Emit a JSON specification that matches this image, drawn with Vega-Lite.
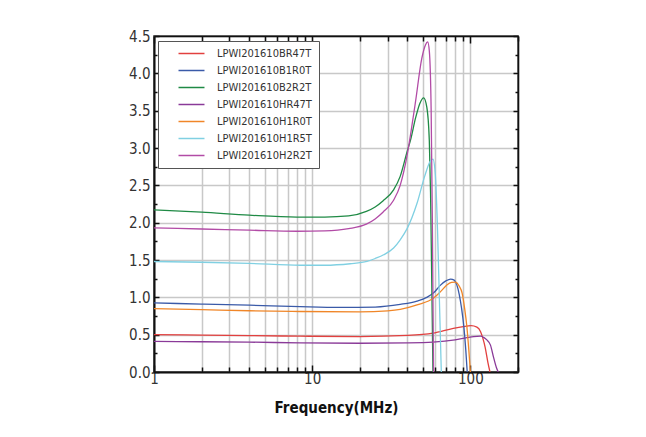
{
  "$schema": "https://vega.github.io/schema/vega-lite/v6.json",
  "width": 364,
  "height": 336,
  "autosize": "none",
  "padding": {"left": 154, "top": 36, "right": 128, "bottom": 65},
  "background": "white",
  "config": {
    "view": {"stroke": "#222", "strokeWidth": 1.5},
    "font": "Liberation Sans Narrow, DejaVu Sans Condensed, Arial Narrow, sans-serif"
  },
  "data": {
    "values": [
      {"f": 1, "v": 0.5, "s": "LPWI201610BR47T"},
      {"f": 2, "v": 0.495, "s": "LPWI201610BR47T"},
      {"f": 4, "v": 0.487, "s": "LPWI201610BR47T"},
      {"f": 8.4, "v": 0.48, "s": "LPWI201610BR47T"},
      {"f": 20, "v": 0.475, "s": "LPWI201610BR47T"},
      {"f": 40, "v": 0.49, "s": "LPWI201610BR47T"},
      {"f": 58, "v": 0.52, "s": "LPWI201610BR47T"},
      {"f": 78, "v": 0.585, "s": "LPWI201610BR47T"},
      {"f": 90, "v": 0.608, "s": "LPWI201610BR47T"},
      {"f": 101, "v": 0.62, "s": "LPWI201610BR47T"},
      {"f": 110, "v": 0.6, "s": "LPWI201610BR47T"},
      {"f": 116, "v": 0.54, "s": "LPWI201610BR47T"},
      {"f": 120, "v": 0.45, "s": "LPWI201610BR47T"},
      {"f": 124, "v": 0.33, "s": "LPWI201610BR47T"},
      {"f": 129, "v": 0.13, "s": "LPWI201610BR47T"},
      {"f": 133, "v": 0, "s": "LPWI201610BR47T"},

      {"f": 1, "v": 0.925, "s": "LPWI201610B1R0T"},
      {"f": 2, "v": 0.91, "s": "LPWI201610B1R0T"},
      {"f": 4, "v": 0.895, "s": "LPWI201610B1R0T"},
      {"f": 8.4, "v": 0.875, "s": "LPWI201610B1R0T"},
      {"f": 15, "v": 0.865, "s": "LPWI201610B1R0T"},
      {"f": 25, "v": 0.87, "s": "LPWI201610B1R0T"},
      {"f": 36, "v": 0.905, "s": "LPWI201610B1R0T"},
      {"f": 46, "v": 0.95, "s": "LPWI201610B1R0T"},
      {"f": 53, "v": 1.0, "s": "LPWI201610B1R0T"},
      {"f": 58.6, "v": 1.06, "s": "LPWI201610B1R0T"},
      {"f": 64.5, "v": 1.16, "s": "LPWI201610B1R0T"},
      {"f": 70, "v": 1.22, "s": "LPWI201610B1R0T"},
      {"f": 75, "v": 1.245, "s": "LPWI201610B1R0T"},
      {"f": 79, "v": 1.23, "s": "LPWI201610B1R0T"},
      {"f": 82, "v": 1.17, "s": "LPWI201610B1R0T"},
      {"f": 85, "v": 1.04, "s": "LPWI201610B1R0T"},
      {"f": 88, "v": 0.85, "s": "LPWI201610B1R0T"},
      {"f": 91, "v": 0.6, "s": "LPWI201610B1R0T"},
      {"f": 93.5, "v": 0.3, "s": "LPWI201610B1R0T"},
      {"f": 95.5, "v": 0, "s": "LPWI201610B1R0T"},

      {"f": 1, "v": 2.17, "s": "LPWI201610B2R2T"},
      {"f": 2, "v": 2.14, "s": "LPWI201610B2R2T"},
      {"f": 4, "v": 2.1, "s": "LPWI201610B2R2T"},
      {"f": 8, "v": 2.075, "s": "LPWI201610B2R2T"},
      {"f": 12, "v": 2.075, "s": "LPWI201610B2R2T"},
      {"f": 17, "v": 2.09, "s": "LPWI201610B2R2T"},
      {"f": 22, "v": 2.15, "s": "LPWI201610B2R2T"},
      {"f": 25, "v": 2.21, "s": "LPWI201610B2R2T"},
      {"f": 28, "v": 2.29, "s": "LPWI201610B2R2T"},
      {"f": 32.7, "v": 2.44, "s": "LPWI201610B2R2T"},
      {"f": 36, "v": 2.62, "s": "LPWI201610B2R2T"},
      {"f": 39.8, "v": 2.95, "s": "LPWI201610B2R2T"},
      {"f": 42, "v": 3.12, "s": "LPWI201610B2R2T"},
      {"f": 45, "v": 3.4, "s": "LPWI201610B2R2T"},
      {"f": 48, "v": 3.6, "s": "LPWI201610B2R2T"},
      {"f": 50.6, "v": 3.67, "s": "LPWI201610B2R2T"},
      {"f": 53, "v": 3.55, "s": "LPWI201610B2R2T"},
      {"f": 55, "v": 3.1, "s": "LPWI201610B2R2T"},
      {"f": 56, "v": 2.4, "s": "LPWI201610B2R2T"},
      {"f": 57, "v": 1.2, "s": "LPWI201610B2R2T"},
      {"f": 58, "v": 0, "s": "LPWI201610B2R2T"},

      {"f": 1, "v": 0.41, "s": "LPWI201610HR47T"},
      {"f": 2, "v": 0.405, "s": "LPWI201610HR47T"},
      {"f": 4, "v": 0.4, "s": "LPWI201610HR47T"},
      {"f": 8.4, "v": 0.39, "s": "LPWI201610HR47T"},
      {"f": 20, "v": 0.385, "s": "LPWI201610HR47T"},
      {"f": 40, "v": 0.39, "s": "LPWI201610HR47T"},
      {"f": 58, "v": 0.4, "s": "LPWI201610HR47T"},
      {"f": 80, "v": 0.43, "s": "LPWI201610HR47T"},
      {"f": 95, "v": 0.46, "s": "LPWI201610HR47T"},
      {"f": 105, "v": 0.475, "s": "LPWI201610HR47T"},
      {"f": 116, "v": 0.48, "s": "LPWI201610HR47T"},
      {"f": 122, "v": 0.46, "s": "LPWI201610HR47T"},
      {"f": 127, "v": 0.43, "s": "LPWI201610HR47T"},
      {"f": 134, "v": 0.36, "s": "LPWI201610HR47T"},
      {"f": 140, "v": 0.2, "s": "LPWI201610HR47T"},
      {"f": 146, "v": 0.06, "s": "LPWI201610HR47T"},
      {"f": 150, "v": 0, "s": "LPWI201610HR47T"},

      {"f": 1, "v": 0.85, "s": "LPWI201610H1R0T"},
      {"f": 2, "v": 0.835, "s": "LPWI201610H1R0T"},
      {"f": 4, "v": 0.82, "s": "LPWI201610H1R0T"},
      {"f": 8.4, "v": 0.81, "s": "LPWI201610H1R0T"},
      {"f": 20, "v": 0.805, "s": "LPWI201610H1R0T"},
      {"f": 30, "v": 0.82, "s": "LPWI201610H1R0T"},
      {"f": 36, "v": 0.84, "s": "LPWI201610H1R0T"},
      {"f": 46, "v": 0.9, "s": "LPWI201610H1R0T"},
      {"f": 58.6, "v": 0.99, "s": "LPWI201610H1R0T"},
      {"f": 65, "v": 1.08, "s": "LPWI201610H1R0T"},
      {"f": 71, "v": 1.165, "s": "LPWI201610H1R0T"},
      {"f": 76, "v": 1.2, "s": "LPWI201610H1R0T"},
      {"f": 80.4, "v": 1.205, "s": "LPWI201610H1R0T"},
      {"f": 85, "v": 1.15, "s": "LPWI201610H1R0T"},
      {"f": 88.6, "v": 1.06, "s": "LPWI201610H1R0T"},
      {"f": 92, "v": 0.85, "s": "LPWI201610H1R0T"},
      {"f": 95, "v": 0.61, "s": "LPWI201610H1R0T"},
      {"f": 98.8, "v": 0.16, "s": "LPWI201610H1R0T"},
      {"f": 100, "v": 0, "s": "LPWI201610H1R0T"},

      {"f": 1, "v": 1.48, "s": "LPWI201610H1R5T"},
      {"f": 2, "v": 1.47, "s": "LPWI201610H1R5T"},
      {"f": 4, "v": 1.455, "s": "LPWI201610H1R5T"},
      {"f": 8.4, "v": 1.43, "s": "LPWI201610H1R5T"},
      {"f": 12, "v": 1.43, "s": "LPWI201610H1R5T"},
      {"f": 17.4, "v": 1.45, "s": "LPWI201610H1R5T"},
      {"f": 22.2, "v": 1.48, "s": "LPWI201610H1R5T"},
      {"f": 25, "v": 1.52, "s": "LPWI201610H1R5T"},
      {"f": 28.3, "v": 1.57, "s": "LPWI201610H1R5T"},
      {"f": 32.7, "v": 1.66, "s": "LPWI201610H1R5T"},
      {"f": 36, "v": 1.77, "s": "LPWI201610H1R5T"},
      {"f": 39.8, "v": 1.92, "s": "LPWI201610H1R5T"},
      {"f": 46, "v": 2.26, "s": "LPWI201610H1R5T"},
      {"f": 51.4, "v": 2.62, "s": "LPWI201610H1R5T"},
      {"f": 55.7, "v": 2.82, "s": "LPWI201610H1R5T"},
      {"f": 58, "v": 2.85, "s": "LPWI201610H1R5T"},
      {"f": 60, "v": 2.65, "s": "LPWI201610H1R5T"},
      {"f": 62, "v": 1.9, "s": "LPWI201610H1R5T"},
      {"f": 64, "v": 0.8, "s": "LPWI201610H1R5T"},
      {"f": 65.5, "v": 0, "s": "LPWI201610H1R5T"},

      {"f": 1, "v": 1.93, "s": "LPWI201610H2R2T"},
      {"f": 2, "v": 1.915, "s": "LPWI201610H2R2T"},
      {"f": 4, "v": 1.9, "s": "LPWI201610H2R2T"},
      {"f": 8, "v": 1.885, "s": "LPWI201610H2R2T"},
      {"f": 12, "v": 1.89, "s": "LPWI201610H2R2T"},
      {"f": 17, "v": 1.92, "s": "LPWI201610H2R2T"},
      {"f": 22, "v": 1.98, "s": "LPWI201610H2R2T"},
      {"f": 25, "v": 2.05, "s": "LPWI201610H2R2T"},
      {"f": 28, "v": 2.14, "s": "LPWI201610H2R2T"},
      {"f": 32.7, "v": 2.3, "s": "LPWI201610H2R2T"},
      {"f": 36, "v": 2.5, "s": "LPWI201610H2R2T"},
      {"f": 39.8, "v": 2.9, "s": "LPWI201610H2R2T"},
      {"f": 42, "v": 3.2, "s": "LPWI201610H2R2T"},
      {"f": 45, "v": 3.62, "s": "LPWI201610H2R2T"},
      {"f": 49.3, "v": 4.2, "s": "LPWI201610H2R2T"},
      {"f": 52, "v": 4.38, "s": "LPWI201610H2R2T"},
      {"f": 53.7, "v": 4.42, "s": "LPWI201610H2R2T"},
      {"f": 55, "v": 4.3, "s": "LPWI201610H2R2T"},
      {"f": 56.5, "v": 3.5, "s": "LPWI201610H2R2T"},
      {"f": 57.5, "v": 2.0, "s": "LPWI201610H2R2T"},
      {"f": 58.5, "v": 0, "s": "LPWI201610H2R2T"}
    ]
  },
  "layer": [
    {
      "mark": {"type": "line", "strokeWidth": 1.3, "interpolate": "monotone", "clip": true},
      "encoding": {
        "x": {
          "field": "f", "type": "quantitative",
          "scale": {"type": "log", "domain": [1, 200], "nice": false},
          "axis": {
            "orient": "bottom",
            "title": "Frequency(MHz)",
            "titleFontSize": 15, "titleFontWeight": "bold", "titleColor": "#111", "titlePadding": 12,
            "values": [1,2,3,4,5,6,7,8,9,10,20,30,40,50,60,70,80,90,100,200],
            "labelExpr": "(datum.value == 1 || datum.value == 10 || datum.value == 100) ? format(datum.value, 'd') : ''",
            "labelFontSize": 15, "labelColor": "#333", "labelPadding": 6,
            "labelFlush": false, "labelOverlap": false,
            "tickColor": "#111", "tickWidth": 1.5,
            "tickSize": {"condition": {"test": "datum.value == 1 || datum.value == 10 || datum.value == 100", "value": -7}, "value": -5},
            "domainColor": "#111", "domainWidth": 2,
            "grid": true, "gridColor": "#c8c8c8", "gridWidth": 1.5
          }
        },
        "y": {
          "field": "v", "type": "quantitative",
          "scale": {"domain": [0, 4.5], "nice": false, "zero": true},
          "axis": {
            "orient": "left",
            "title": null,
            "values": [0,0.25,0.5,0.75,1,1.25,1.5,1.75,2,2.25,2.5,2.75,3,3.25,3.5,3.75,4,4.25,4.5],
            "labelExpr": "(datum.value * 2 == floor(datum.value * 2)) ? format(datum.value, '.1f') : ''",
            "labelFontSize": 15, "labelColor": "#333", "labelPadding": 9,
            "labelFlush": false, "labelOverlap": false,
            "tickColor": "#111", "tickWidth": 1.5,
            "tickSize": {"condition": {"test": "datum.value * 2 == floor(datum.value * 2)", "value": -5}, "value": -3},
            "domainColor": "#111", "domainWidth": 2,
            "grid": true, "gridColor": "#c8c8c8", "gridWidth": 1.5,
            "gridOpacity": {"condition": {"test": "datum.value * 2 == floor(datum.value * 2)", "value": 1}, "value": 0}
          }
        },
        "color": {
          "field": "s", "type": "nominal",
          "scale": {
            "domain": ["LPWI201610BR47T","LPWI201610B1R0T","LPWI201610B2R2T","LPWI201610HR47T","LPWI201610H1R0T","LPWI201610H1R5T","LPWI201610H2R2T"],
            "range": ["#e2403f","#3a5aa8","#1f8a45","#8a3a98","#f08628","#80d0e2","#b24ba6"]
          },
          "legend": {
            "orient": "none", "legendX": 4, "legendY": 5,
            "title": null,
            "symbolType": "M-3,0H3", "symbolSize": 75, "symbolStrokeWidth": 1.5,
            "labelFontSize": 11, "labelColor": "#333",
            "labelOffset": 20, "symbolOffset": 21,
            "rowPadding": 5,
            "padding": 7,
            "strokeColor": "#555", "fillColor": "white"
          }
        }
      }
    },
    {
      "mark": {"type": "line", "opacity": 0},
      "encoding": {
        "x": {
          "field": "f", "type": "quantitative",
          "scale": {"type": "log", "domain": [1, 200], "nice": false},
          "axis": {
            "orient": "top", "title": null, "labels": false, "grid": false,
            "values": [1,2,3,4,5,6,7,8,9,10,20,30,40,50,60,70,80,90,100,200],
            "tickColor": "#111", "tickWidth": 1.5,
            "tickSize": {"condition": {"test": "datum.value == 1 || datum.value == 10 || datum.value == 100", "value": -7}, "value": -5},
            "domainColor": "#111", "domainWidth": 1.5
          }
        },
        "y": {
          "field": "v", "type": "quantitative",
          "scale": {"domain": [0, 4.5], "nice": false},
          "axis": {
            "orient": "right", "title": null, "labels": false, "grid": false,
            "values": [0,0.25,0.5,0.75,1,1.25,1.5,1.75,2,2.25,2.5,2.75,3,3.25,3.5,3.75,4,4.25,4.5],
            "tickColor": "#111", "tickWidth": 1.5,
            "tickSize": {"condition": {"test": "datum.value * 2 == floor(datum.value * 2)", "value": -5}, "value": -3},
            "domainColor": "#111", "domainWidth": 1.5
          }
        }
      }
    }
  ],
  "resolve": {"axis": {"x": "independent", "y": "independent"}}
}
